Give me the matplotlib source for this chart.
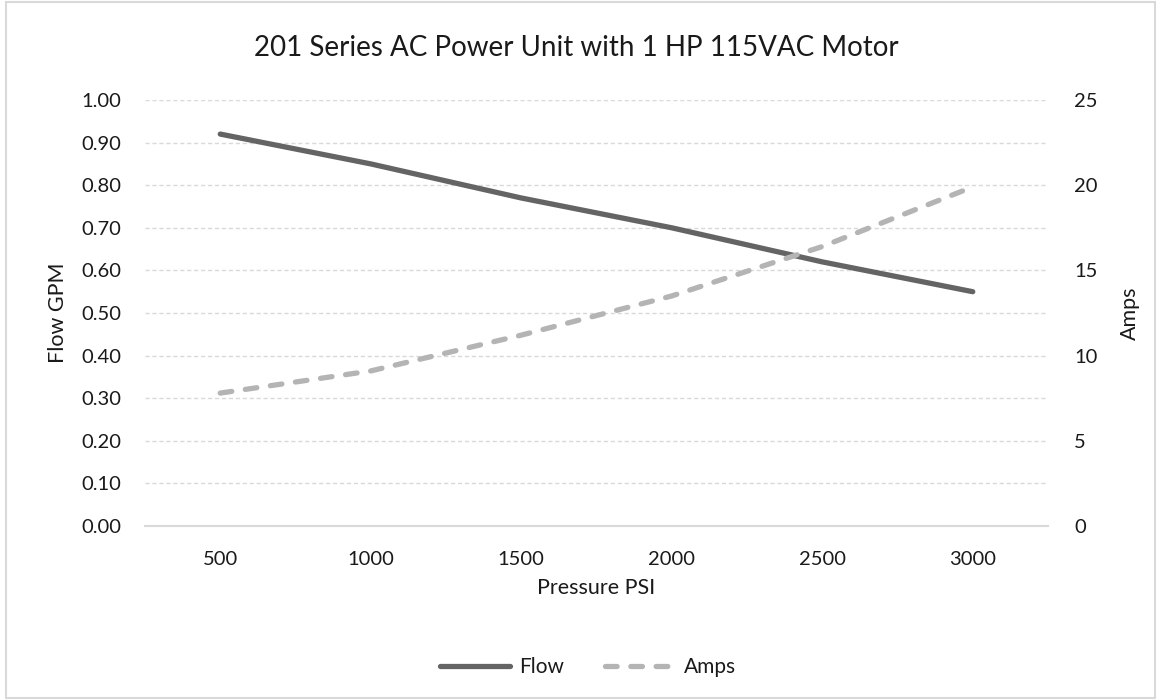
import matplotlib.pyplot as plt
from matplotlib.patches import Rectangle

# data
pressure = ["500", "1000", "1500", "2000", "2500", "3000"]
flow_gpm = [0.92, 0.85, 0.77, 0.70, 0.62, 0.55]
amps = [7.8, 9.1, 11.2, 13.5, 16.4, 19.9]

flow_color = "#646464"
amps_color = "#b4b4b4"
grid_color = "#d9d9d9"
text_color = "#1a1a1a"

plt.rcParams['font.family'] = ['Lato', 'DejaVu Sans']

fig = plt.figure(figsize=(11.61, 7), dpi=100)
ax = fig.add_axes([145 / 1161, 1 - 526 / 700, (1048 - 145) / 1161, 426 / 700])
ax2 = ax.twinx()

x = list(range(len(pressure)))

# gridlines (Excel style dashed, light gray)
ax.set_ylim(0, 1.0)
ax.set_yticks([i / 10 for i in range(11)])
ax.set_yticklabels(["%.2f" % (i / 10) for i in range(11)])
ax.set_xlim(-0.5, len(pressure) - 0.5)
ax.set_xticks(x)
ax.set_xticklabels(pressure)
ax.yaxis.grid(True, color=grid_color, linestyle=(0, (3, 2)), linewidth=1)
ax.set_axisbelow(True)

ax2.set_ylim(0, 25)
ax2.set_yticks([0, 5, 10, 15, 20, 25])

for a in (ax, ax2):
    for side in ("top", "left", "right"):
        a.spines[side].set_visible(False)
    a.tick_params(length=0, labelsize=14.5, colors=text_color)
ax.spines["bottom"].set_color(grid_color)
ax.spines["bottom"].set_linewidth(1.5)
ax2.spines["bottom"].set_visible(False)
ax.tick_params(axis="y", pad=17)
ax.tick_params(axis="x", pad=18)
ax2.tick_params(axis="y", pad=19)

flow_line, = ax.plot(x, flow_gpm, color=flow_color, linewidth=3.8,
                     solid_capstyle="round", label="Flow", zorder=3)
amps_line, = ax2.plot(x, amps, color=amps_color, linewidth=3.8,
                      dashes=(2.2, 2.6), dash_capstyle="round", label="Amps", zorder=3)

ax.set_xlabel("Pressure PSI", fontsize=15.5, color=text_color, labelpad=7)
ax.set_ylabel("Flow GPM", fontsize=15.5, color=text_color, labelpad=10)
ax2.set_ylabel("Amps", fontsize=15.5, color=text_color, labelpad=16)

fig.text(576 / 1161, 1 - 48 / 700, "201 Series AC Power Unit with 1 HP 115VAC Motor",
         ha="center", va="center", fontsize=20, color=text_color)

fig.legend(handles=[flow_line, amps_line], loc="center", ncol=2,
           bbox_to_anchor=(588 / 1161, 1 - 667 / 700), frameon=False,
           fontsize=15, handlelength=3.4, columnspacing=2.0, handletextpad=0.4,
           labelcolor=text_color)

# outer chart border
fig.patches.append(Rectangle((6 / 1161, 2 / 700), 1 - 12 / 1161, 1 - 4 / 700,
                             transform=fig.transFigure, fill=False,
                             edgecolor=grid_color, linewidth=1.5))

fig.savefig("out.png", dpi=100)
